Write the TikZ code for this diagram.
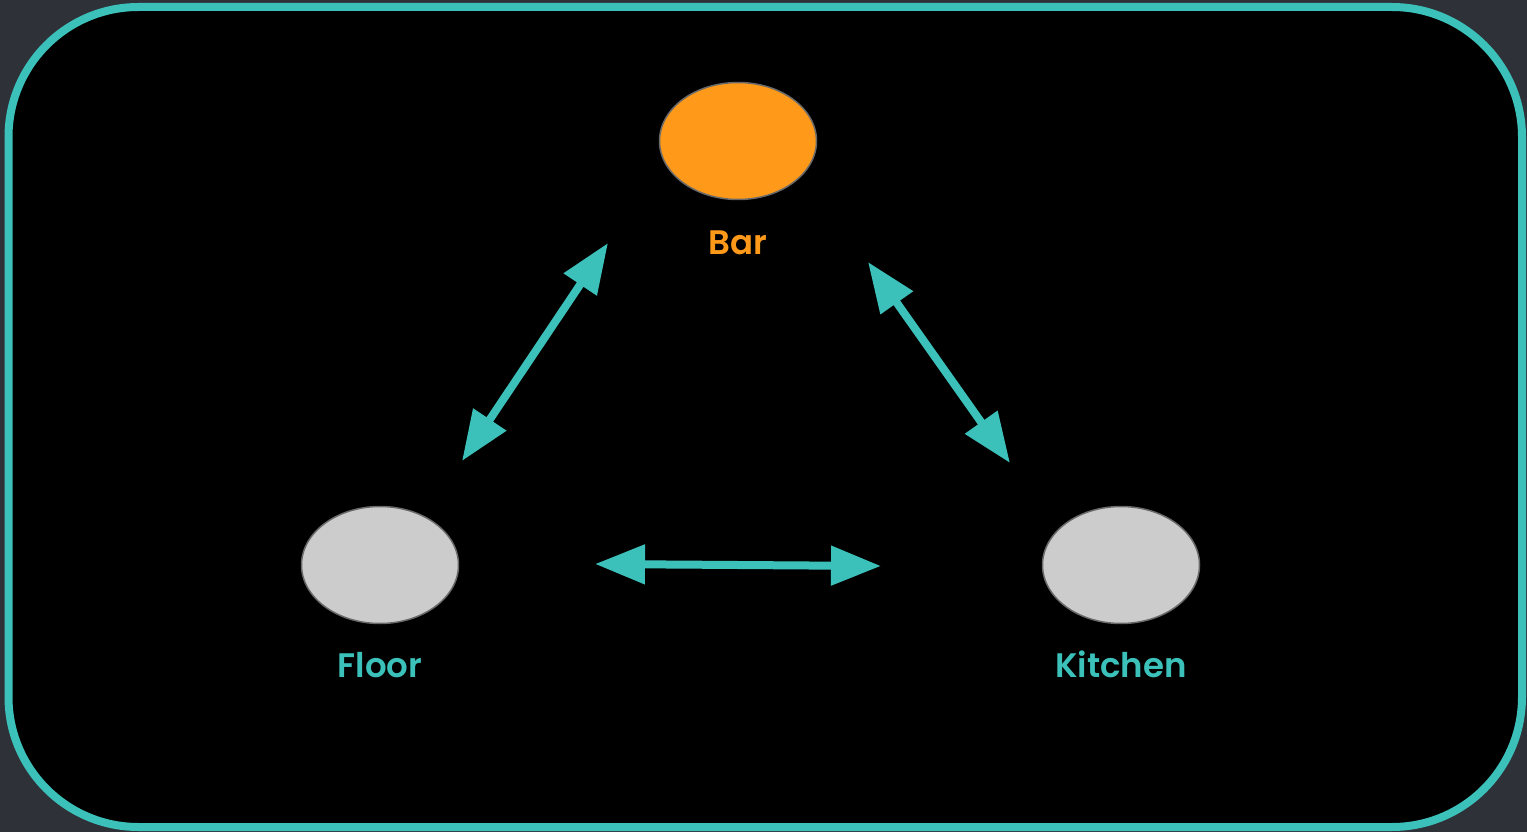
\documentclass[tikz,border=0pt]{standalone}
\usepackage{fontspec}
\setmainfont{Poppins}
\newfontfamily\tagfont{Poppins}[UprightFont=* SemiBold]
\usetikzlibrary{arrows.meta,shapes.geometric}
\definecolor{page}{RGB}{46,49,56}
\definecolor{accent}{RGB}{59,193,186}
\definecolor{barorange}{RGB}{255,153,26}
\definecolor{stationgray}{RGB}{204,204,204}
\definecolor{rim}{RGB}{105,105,105}
\tikzset{
  station/.style={ellipse, draw=rim, line width=1.5pt, inner sep=0pt,
    minimum width=157pt, minimum height=117pt},
  tag/.style={anchor=base, inner sep=0pt, font=\tagfont\fontsize{34}{40}\selectfont},
  link/.style={accent, line width=8pt,
    {Triangle[length=50pt,width=38pt]}-{Triangle[length=50pt,width=38pt]}}
}
\begin{document}
\begin{tikzpicture}[x=1pt,y=-1pt]
  \fill[page] (0,0) rectangle (1527,832);
  \useasboundingbox (0,0) rectangle (1527,832);
  % framed panel
  \draw[accent, line width=8pt, fill=black, rounded corners=130pt]
    (8.5,7) rectangle (1522,827);

  % stations
  \node[station, fill=barorange]   (bar)     at (738,141)  {};
  \node[station, fill=stationgray] (floor)   at (380,565)  {};
  \node[station, fill=stationgray] (kitchen) at (1121,565) {};

  \node[tag, text=barorange] (barlabel)     at (738,254)  {Bar};
  \node[tag, text=accent]    (floorlabel)   at (380,677)  {Floor};
  \node[tag, text=accent]    (kitchenlabel) at (1121,677) {Kitchen};

  % two-way links
  \coordinate (bfTop) at (608,243);
  \coordinate (bfBot) at (462,461);
  \coordinate (bkTop) at (868,262);
  \coordinate (bkBot) at (1010,463);
  \coordinate (fkL)   at (595,564);
  \coordinate (fkR)   at (881,566);

  \draw[link] (bfTop) -- (bfBot);
  \draw[link] (bkTop) -- (bkBot);
  \draw[link] (fkL) -- (fkR);
\end{tikzpicture}
\end{document}
